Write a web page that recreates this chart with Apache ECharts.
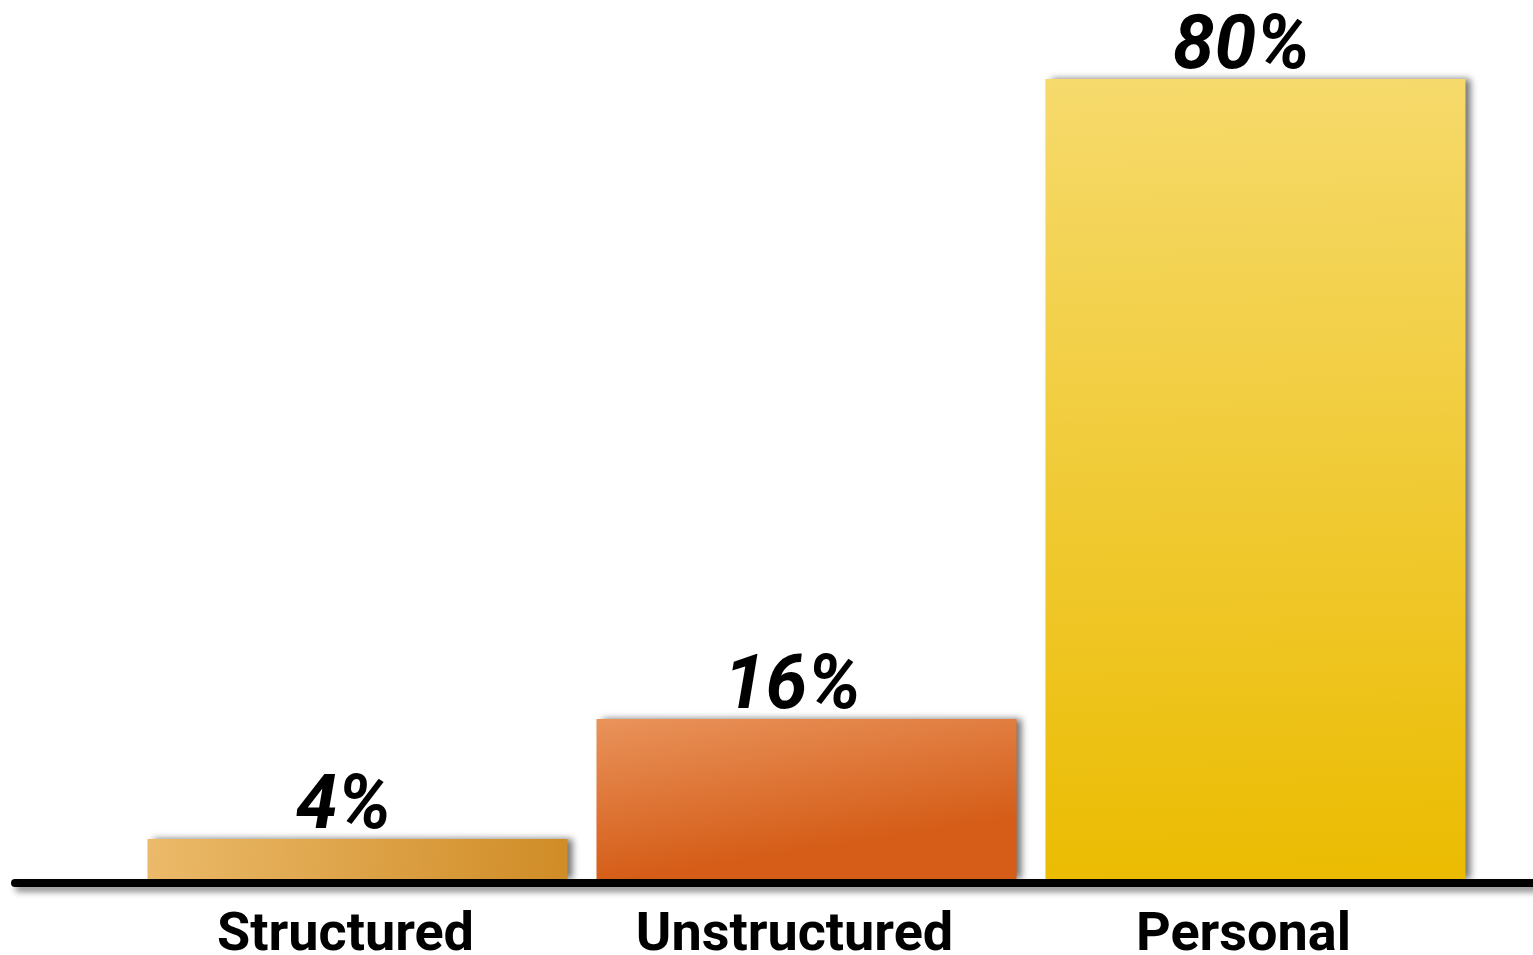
<!DOCTYPE html>
<html>
<head>
<meta charset="utf-8">
<title>Data types</title>
<script src="https://cdn.jsdelivr.net/npm/echarts@6/dist/echarts.min.js"></script>
<style>
    html, body {margin: 0; padding: 0; background: #fff;}
    #main {width: 1533px; height: 955px;}
</style>
</head>
<body>
<div id="main"></div>
<script>
// data
var categories = ['Structured', 'Unstructured', 'Personal'];
var shares = [4, 16, 80];

// gradient per bar: [x2, y2, start colour, end colour]
var barColors = [
    [1, 1, '#ebba6a', '#d08c26'],
    [0.06, 1, '#e9935b', '#d55d18'],
    [0.04, 1, '#f6da6c', '#ebbc02']
];

var font = 'Roboto, "Liberation Sans", sans-serif';

var chartDom = document.getElementById('main');
var myChart = echarts.init(chartDom);
var option;

option = {
    backgroundColor: '#fff',
    animation: false,
    grid: [
        {left: 133, right: 53, top: 79, bottom: 76, outerBoundsMode: 'none', containLabel: false},
        // only for the long base line
        {left: 15, right: 0, top: 79, bottom: 72, outerBoundsMode: 'none', containLabel: false}
    ],
    xAxis: [
        {
            type: 'category',
            gridIndex: 0,
            data: categories,
            axisLine: {show: false},
            axisTick: {show: false},
            axisLabel: {
                interval: 0,
                color: '#000',
                fontFamily: font,
                fontWeight: 'bold',
                fontSize: 54,
                margin: 30,
                padding: [0, 24, 0, 0]
            }
        },
        {
            type: 'value',
            gridIndex: 1,
            min: 0,
            max: 1,
            splitLine: {show: false},
            axisTick: {show: false},
            axisLabel: {show: false},
            axisLine: {
                show: true,
                lineStyle: {
                    color: '#000',
                    width: 8,
                    shadowColor: 'rgba(0,0,0,0.45)',
                    shadowBlur: 6,
                    shadowOffsetX: 4,
                    shadowOffsetY: 5
                }
            }
        }
    ],
    yAxis: [
        {type: 'value', gridIndex: 0, min: 0, max: 80, show: false},
        {type: 'value', gridIndex: 1, min: 0, max: 1, show: false}
    ],
    series: [
        {
            type: 'bar',
            xAxisIndex: 0,
            yAxisIndex: 0,
            barWidth: 420,
            z: 3,
            data: shares.map(function (v, i) {
                var c = barColors[i];
                return {
                    value: v,
                    itemStyle: {
                        color: new echarts.graphic.LinearGradient(0, 0, c[0], c[1], [
                            {offset: 0, color: c[2]},
                            {offset: 1, color: c[3]}
                        ])
                    }
                };
            }),
            itemStyle: {
                shadowColor: 'rgba(0,0,0,0.55)',
                shadowBlur: 7,
                shadowOffsetX: 5,
                shadowOffsetY: 0
            },
            label: {
                show: true,
                position: 'top',
                distance: -3,
                offset: [-14, 0],
                formatter: '{c}%',
                color: '#000',
                fontFamily: font,
                fontWeight: 'bold',
                fontStyle: 'italic',
                fontSize: 75,
                lineHeight: 66
            }
        }
    ]
};

option && myChart.setOption(option);
</script>
</body>
</html>
